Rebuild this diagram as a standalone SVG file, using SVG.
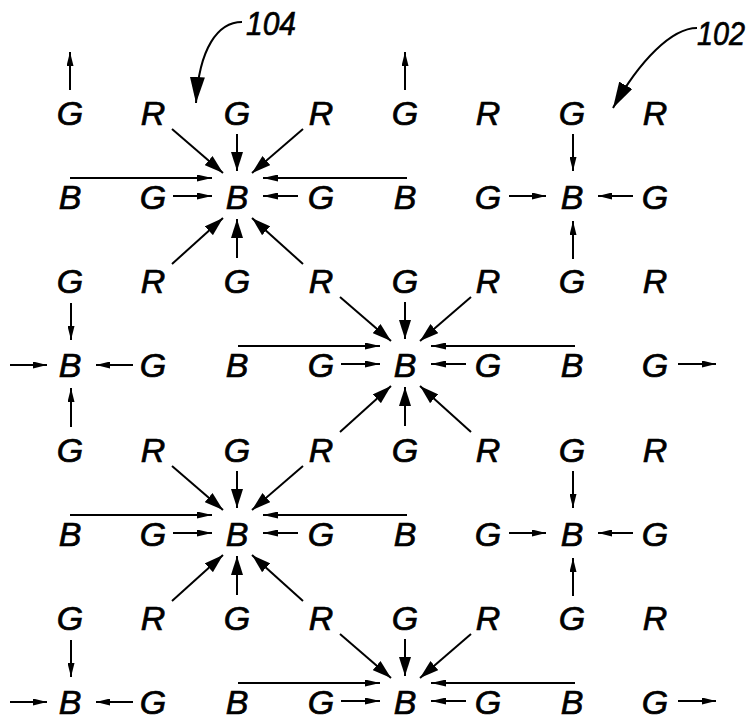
<svg xmlns="http://www.w3.org/2000/svg" width="753" height="722" viewBox="0 0 753 722">
<style>
text{font-family:"Liberation Sans",Arial,sans-serif;font-style:italic;font-size:34px;fill:#000;stroke:#000;stroke-width:0.7;text-anchor:middle}
text.lbl{text-anchor:start;font-size:34px}
.c line,.c path{stroke:#000;stroke-width:2;fill:none}
.big{marker-end:url(#mb)}
.sm{marker-end:url(#ms)}
.md{marker-end:url(#mm)}
.lb{marker-end:url(#ml)}
</style>
<defs>
<marker id="mb" markerUnits="userSpaceOnUse" markerWidth="19" markerHeight="12" refX="19" refY="6" orient="auto"><path d="M0,0 L19,6 L0,12 z" fill="#000"/></marker>
<marker id="mm" markerUnits="userSpaceOnUse" markerWidth="15" markerHeight="7" refX="15" refY="3.5" orient="auto"><path d="M0,0 L15,3.5 L0,7 z" fill="#000"/></marker>
<marker id="ms" markerUnits="userSpaceOnUse" markerWidth="14" markerHeight="7" refX="14" refY="3.5" orient="auto"><path d="M0,0 L14,3.5 L0,7 z" fill="#000"/></marker>
<marker id="ml" markerUnits="userSpaceOnUse" markerWidth="26" markerHeight="15" refX="26" refY="7.5" orient="auto"><path d="M0,0 L26,7.5 L0,15 z" fill="#000"/></marker>
</defs>
<g id="nodes">
<g id="r1c1"><text x="70" y="125">G</text></g>
<g id="r1c2"><text x="153" y="125">R</text></g>
<g id="r1c3"><text x="237" y="125">G</text></g>
<g id="r1c4"><text x="321" y="125">R</text></g>
<g id="r1c5"><text x="405" y="125">G</text></g>
<g id="r1c6"><text x="488" y="125">R</text></g>
<g id="r1c7"><text x="572" y="125">G</text></g>
<g id="r1c8"><text x="655" y="125">R</text></g>
<g id="r2c1"><text x="70" y="209">B</text></g>
<g id="r2c2"><text x="153" y="209">G</text></g>
<g id="r2c3"><text x="237" y="209">B</text></g>
<g id="r2c4"><text x="321" y="209">G</text></g>
<g id="r2c5"><text x="405" y="209">B</text></g>
<g id="r2c6"><text x="488" y="209">G</text></g>
<g id="r2c7"><text x="572" y="209">B</text></g>
<g id="r2c8"><text x="655" y="209">G</text></g>
<g id="r3c1"><text x="70" y="293">G</text></g>
<g id="r3c2"><text x="153" y="293">R</text></g>
<g id="r3c3"><text x="237" y="293">G</text></g>
<g id="r3c4"><text x="321" y="293">R</text></g>
<g id="r3c5"><text x="405" y="293">G</text></g>
<g id="r3c6"><text x="488" y="293">R</text></g>
<g id="r3c7"><text x="572" y="293">G</text></g>
<g id="r3c8"><text x="655" y="293">R</text></g>
<g id="r4c1"><text x="70" y="377">B</text></g>
<g id="r4c2"><text x="153" y="377">G</text></g>
<g id="r4c3"><text x="237" y="377">B</text></g>
<g id="r4c4"><text x="321" y="377">G</text></g>
<g id="r4c5"><text x="405" y="377">B</text></g>
<g id="r4c6"><text x="488" y="377">G</text></g>
<g id="r4c7"><text x="572" y="377">B</text></g>
<g id="r4c8"><text x="655" y="377">G</text></g>
<g id="r5c1"><text x="70" y="462">G</text></g>
<g id="r5c2"><text x="153" y="462">R</text></g>
<g id="r5c3"><text x="237" y="462">G</text></g>
<g id="r5c4"><text x="321" y="462">R</text></g>
<g id="r5c5"><text x="405" y="462">G</text></g>
<g id="r5c6"><text x="488" y="462">R</text></g>
<g id="r5c7"><text x="572" y="462">G</text></g>
<g id="r5c8"><text x="655" y="462">R</text></g>
<g id="r6c1"><text x="70" y="546">B</text></g>
<g id="r6c2"><text x="153" y="546">G</text></g>
<g id="r6c3"><text x="237" y="546">B</text></g>
<g id="r6c4"><text x="321" y="546">G</text></g>
<g id="r6c5"><text x="405" y="546">B</text></g>
<g id="r6c6"><text x="488" y="546">G</text></g>
<g id="r6c7"><text x="572" y="546">B</text></g>
<g id="r6c8"><text x="655" y="546">G</text></g>
<g id="r7c1"><text x="70" y="630">G</text></g>
<g id="r7c2"><text x="153" y="630">R</text></g>
<g id="r7c3"><text x="237" y="630">G</text></g>
<g id="r7c4"><text x="321" y="630">R</text></g>
<g id="r7c5"><text x="405" y="630">G</text></g>
<g id="r7c6"><text x="488" y="630">R</text></g>
<g id="r7c7"><text x="572" y="630">G</text></g>
<g id="r7c8"><text x="655" y="630">R</text></g>
<g id="r8c1"><text x="70" y="714">B</text></g>
<g id="r8c2"><text x="153" y="714">G</text></g>
<g id="r8c3"><text x="237" y="714">B</text></g>
<g id="r8c4"><text x="321" y="714">G</text></g>
<g id="r8c5"><text x="405" y="714">B</text></g>
<g id="r8c6"><text x="488" y="714">G</text></g>
<g id="r8c7"><text x="572" y="714">B</text></g>
<g id="r8c8"><text x="655" y="714">G</text></g>
<g id="label104"><text class="lbl" x="246" y="35" textLength="50" lengthAdjust="spacingAndGlyphs">104</text></g>
<g id="label102"><text class="lbl" x="697" y="45" textLength="48" lengthAdjust="spacingAndGlyphs">102</text></g>
</g>
<g id="connectors" class="c">
<!-- star cluster 1 -->
<line class="big" x1="237" y1="134" x2="237" y2="171"/>
<line class="big" x1="237" y1="258" x2="237" y2="219"/>
<line class="big" x1="172" y1="129" x2="223" y2="173"/>
<line class="big" x1="303" y1="129" x2="252" y2="173"/>
<line class="big" x1="172" y1="264" x2="223" y2="218"/>
<line class="big" x1="303" y1="264" x2="252" y2="218"/>
<line class="md" x1="70" y1="178" x2="212" y2="178"/>
<line class="md" x1="407" y1="178" x2="263" y2="178"/>
<line class="md" x1="173" y1="196" x2="212" y2="196"/>
<line class="md" x1="298" y1="196" x2="263" y2="196"/>
<!-- star cluster 2 -->
<line class="big" x1="405" y1="302" x2="405" y2="339"/>
<line class="big" x1="405" y1="426" x2="405" y2="387"/>
<line class="big" x1="340" y1="297" x2="391" y2="341"/>
<line class="big" x1="471" y1="297" x2="420" y2="341"/>
<line class="big" x1="340" y1="432" x2="391" y2="386"/>
<line class="big" x1="471" y1="432" x2="420" y2="386"/>
<line class="md" x1="238" y1="346" x2="380" y2="346"/>
<line class="md" x1="575" y1="346" x2="431" y2="346"/>
<line class="md" x1="341" y1="364" x2="380" y2="364"/>
<line class="md" x1="466" y1="364" x2="431" y2="364"/>
<!-- star cluster 3 -->
<line class="big" x1="237" y1="471" x2="237" y2="508"/>
<line class="big" x1="237" y1="595" x2="237" y2="556"/>
<line class="big" x1="172" y1="466" x2="223" y2="510"/>
<line class="big" x1="303" y1="466" x2="252" y2="510"/>
<line class="big" x1="172" y1="601" x2="223" y2="555"/>
<line class="big" x1="303" y1="601" x2="252" y2="555"/>
<line class="md" x1="70" y1="515" x2="212" y2="515"/>
<line class="md" x1="407" y1="515" x2="263" y2="515"/>
<line class="md" x1="173" y1="533" x2="212" y2="533"/>
<line class="md" x1="298" y1="533" x2="263" y2="533"/>
<!-- star cluster 4 -->
<line class="big" x1="405" y1="639" x2="405" y2="676"/>
<line class="big" x1="340" y1="634" x2="391" y2="678"/>
<line class="big" x1="471" y1="634" x2="420" y2="678"/>
<line class="md" x1="238" y1="683" x2="380" y2="683"/>
<line class="md" x1="575" y1="683" x2="431" y2="683"/>
<line class="md" x1="341" y1="701" x2="380" y2="701"/>
<line class="md" x1="466" y1="701" x2="431" y2="701"/>
<!-- simple clusters -->
<line class="sm" x1="573" y1="134" x2="573" y2="171"/>
<line class="sm" x1="573" y1="259" x2="573" y2="221"/>
<line class="sm" x1="509" y1="196" x2="546" y2="196"/>
<line class="sm" x1="633" y1="196" x2="598" y2="196"/>
<line class="sm" x1="71" y1="303" x2="71" y2="340"/>
<line class="sm" x1="71" y1="427" x2="71" y2="388"/>
<line class="sm" x1="10" y1="365" x2="47" y2="365"/>
<line class="sm" x1="133" y1="365" x2="96" y2="365"/>
<line class="sm" x1="573" y1="471" x2="573" y2="508"/>
<line class="sm" x1="573" y1="596" x2="573" y2="558"/>
<line class="sm" x1="509" y1="533" x2="546" y2="533"/>
<line class="sm" x1="633" y1="533" x2="598" y2="533"/>
<line class="sm" x1="71" y1="640" x2="71" y2="677"/>
<line class="sm" x1="10" y1="702" x2="47" y2="702"/>
<line class="sm" x1="133" y1="702" x2="96" y2="702"/>
<!-- edge arrows -->
<line class="sm" x1="70" y1="90" x2="70" y2="52"/>
<line class="sm" x1="405" y1="90" x2="405" y2="52"/>
<line class="sm" x1="678" y1="364" x2="716" y2="364"/>
<line class="sm" x1="678" y1="701" x2="716" y2="701"/>
<!-- reference label leaders -->
<path class="lb" d="M242,22 C218,22 199,48 196,103"/>
<path class="lb" d="M697,28 C672,28 640,60 613,108"/>
</g>
</svg>
